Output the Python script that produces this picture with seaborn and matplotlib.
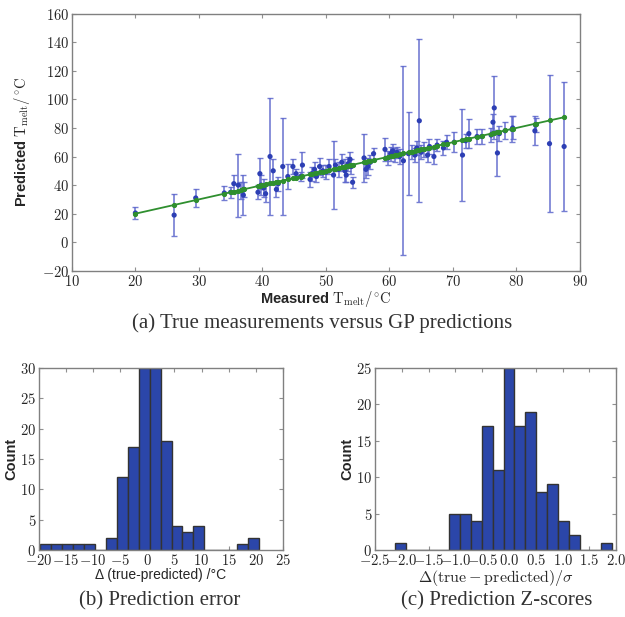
import numpy as np
import pandas as pd
import matplotlib
matplotlib.use('Agg')
import matplotlib.pyplot as plt
from matplotlib.ticker import FuncFormatter
import seaborn as sns

# GP predictions vs measured melting temperatures
measured = [20.0, 26.1, 29.5, 34.0, 35.0, 35.5, 36.2, 36.7, 37.0, 37.1,
            39.3, 39.6, 39.8, 40.2, 40.5, 41.2, 41.7, 42.2, 42.5, 43.2,
            44.0, 44.8, 45.3, 46.0, 46.3, 47.5, 47.8, 48.2, 48.5, 49.0,
            49.5, 50.0, 50.5, 51.2, 51.5, 52.0, 52.5, 53.0, 53.2, 53.5,
            53.8, 54.0, 54.2, 56.0, 56.3, 56.6, 57.0, 57.5, 59.3, 59.8,
            60.2, 60.5, 60.8, 61.2, 61.6, 62.2, 63.0, 63.5, 64.0, 64.3,
            64.7, 65.0, 65.5, 66.0, 66.3, 67.0, 67.5, 68.5, 69.0, 70.2,
            71.5, 72.0, 72.5, 73.8, 74.5, 76.0, 76.3, 76.5, 77.0, 77.3,
            78.2, 79.3, 79.4, 82.9, 83.0, 85.2, 87.5]
predicted = [20.5, 19.0, 31.0, 34.5, 35.0, 41.0, 40.0, 36.0, 33.0, 37.0,
             35.0, 48.0, 40.0, 38.0, 34.0, 60.0, 50.0, 37.0, 41.0, 53.0,
             46.0, 53.0, 48.0, 46.0, 54.0, 44.0, 48.0, 51.0, 46.0, 53.0,
             50.0, 49.0, 53.0, 47.0, 54.0, 51.0, 56.0, 50.0, 47.0, 55.0,
             58.0, 53.0, 42.0, 59.0, 51.0, 53.0, 56.0, 62.0, 65.0, 59.0,
             62.0, 64.0, 61.0, 63.0, 60.0, 57.0, 62.0, 63.0, 61.0, 66.0,
             85.0, 63.0, 65.0, 61.0, 67.0, 60.0, 68.0, 66.0, 70.0, 70.0,
             61.0, 71.0, 76.0, 74.0, 74.0, 75.0, 84.0, 94.0, 62.5, 76.0,
             78.0, 79.0, 80.0, 78.0, 82.0, 69.0, 67.0]
pred_err = [4, 14.5, 6, 5, 4, 6, 22, 6, 14, 5,
            5, 11, 7, 6, 6, 41, 8, 5, 5, 34,
            9, 5, 3, 3, 9, 5, 5, 5, 4, 6,
            4, 5, 5, 24, 4, 5, 6, 8, 5, 5,
            5, 5, 4, 17, 6, 6, 5, 4, 8, 5,
            5, 5, 5, 4, 5, 66, 29, 5, 5, 5,
            57, 5, 5, 5, 5, 5, 4, 5, 5, 7,
            32, 5, 10, 5, 5, 5, 6, 22, 16, 5,
            6, 9, 8, 10, 5, 48, 45]

# Histogram of errors (true - predicted), 20 bins
err_edges_range = (-19.88, 20.69)
err_counts = [1, 1, 1, 1, 1, 0, 2, 12, 17, 30, 30, 18, 4, 3, 4, 0, 0, 0, 1, 2]

# Histogram of Z-scores, 20 bins
z_edges_range = (-2.127, 1.924)
z_counts = [1, 0, 0, 0, 0, 5, 5, 4, 17, 11, 25, 17, 19, 8, 9, 4, 2, 0, 0, 1]

sns.set_style('ticks')
plt.rcParams['mathtext.fontset'] = 'cm'
plt.rcParams['font.family'] = ['Liberation Sans', 'DejaVu Sans']

fig = plt.figure(figsize=(6.25, 6.17), dpi=100)
ax_a = fig.add_axes([0.115, 0.561, 0.813, 0.417])
ax_b = fig.add_axes([0.0624, 0.1086, 0.39, 0.295])
ax_c = fig.add_axes([0.60, 0.1086, 0.386, 0.295])

blue = '#2d3fb4'
bar_blue = '#2b46a9'
green = '#2f8f2f'

int_fmt = FuncFormatter(lambda v, p: f'${v:g}$')
dec_fmt = FuncFormatter(lambda v, p: f'${v:.1f}$')

# (a) scatter with error bars and the y = x line
ax_a.errorbar(measured, predicted, yerr=pred_err, fmt='none', ecolor='#5c66cc',
              elinewidth=1.2, capsize=2, capthick=1.0, alpha=0.85, zorder=2)
sns.scatterplot(x=measured, y=predicted, ax=ax_a, color=blue, s=14,
                edgecolor='none', zorder=3)
sns.lineplot(x=measured, y=measured, ax=ax_a, color=green, lw=1.3,
             marker='o', markersize=3, markeredgecolor=green, zorder=4)
ax_a.set_xlim(10, 90)
ax_a.set_ylim(-20, 160)
ax_a.set_xticks(np.arange(10, 91, 10))
ax_a.set_yticks(np.arange(-20, 161, 20))
ax_a.xaxis.set_major_formatter(int_fmt)
ax_a.yaxis.set_major_formatter(int_fmt)
ax_a.set_xlabel(r'Measured $\mathrm{T_{melt}/^{\circ}C}$', fontsize=10.5,
                fontweight='bold', labelpad=0)
ax_a.set_ylabel(r'Predicted $\mathrm{T_{melt}/^{\circ}C}$', fontsize=10.5,
                fontweight='bold', labelpad=7)

# (b) prediction error histogram
err_w = (err_edges_range[1] - err_edges_range[0]) / len(err_counts)
err_df = pd.DataFrame({'x': err_edges_range[0] + err_w * (np.arange(len(err_counts)) + 0.5),
                       'n': err_counts})
sns.histplot(data=err_df, x='x', weights='n', bins=len(err_counts),
             binrange=err_edges_range, ax=ax_b,
             color=bar_blue, edgecolor='#333333', linewidth=1.0, alpha=1)
ax_b.set_xlim(-20, 25)
ax_b.set_ylim(0, 30)
ax_b.set_xticks(np.arange(-20, 26, 5))
ax_b.set_yticks(np.arange(0, 31, 5))
ax_b.xaxis.set_major_formatter(int_fmt)
ax_b.yaxis.set_major_formatter(int_fmt)
ax_b.set_xlabel('Δ (true-predicted) /°C', fontsize=10, labelpad=0)
ax_b.set_ylabel('Count', fontsize=10.5, fontweight='bold', labelpad=1)

# (c) Z-score histogram
z_w = (z_edges_range[1] - z_edges_range[0]) / len(z_counts)
z_df = pd.DataFrame({'x': z_edges_range[0] + z_w * (np.arange(len(z_counts)) + 0.5),
                     'n': z_counts})
sns.histplot(data=z_df, x='x', weights='n', bins=len(z_counts),
             binrange=z_edges_range, ax=ax_c,
             color=bar_blue, edgecolor='#333333', linewidth=1.0, alpha=1)
ax_c.set_xlim(-2.5, 2.0)
ax_c.set_ylim(0, 25)
ax_c.set_xticks(np.arange(-2.5, 2.01, 0.5))
ax_c.set_yticks(np.arange(0, 26, 5))
ax_c.xaxis.set_major_formatter(dec_fmt)
ax_c.yaxis.set_major_formatter(int_fmt)
ax_c.set_xlabel(r'$\Delta(\mathrm{true}-\mathrm{predicted})/\sigma$', fontsize=11.5, labelpad=0)
ax_c.set_ylabel('Count', fontsize=10.5, fontweight='bold', labelpad=1)

for ax in (ax_a, ax_b, ax_c):
    for sp in ax.spines.values():
        sp.set_visible(True)
        sp.set_color('#808080')
        sp.set_linewidth(1.0)
    ax.tick_params(direction='in', top=True, right=True, length=3,
                   color='#909090', labelsize=10.5, pad=2)

# sub-figure captions
cap = dict(ha='center', va='center', fontsize=15, family='Liberation Serif', color='#333333')
fig.text(0.515, 0.4765, '(a) True measurements versus GP predictions', **cap)
fig.text(0.256, 0.026, '(b) Prediction error', **cap)
fig.text(0.795, 0.026, '(c) Prediction Z-scores', **cap)

fig.savefig('out.png', dpi=100)
